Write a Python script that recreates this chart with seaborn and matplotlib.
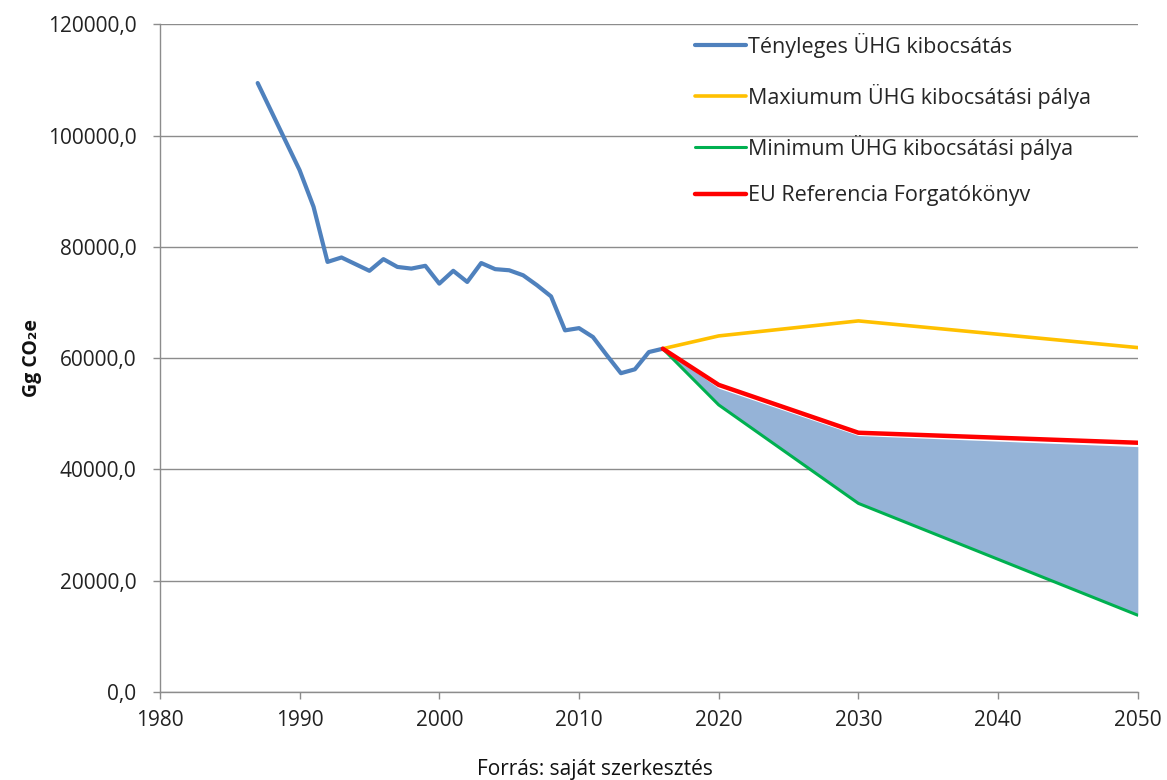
import pandas as pd
import matplotlib.pyplot as plt
import seaborn as sns
import numpy as np
from matplotlib.ticker import FuncFormatter

# Actual emissions (Gg CO2e)
years_actual = [1987, 1990, 1991, 1992, 1993, 1995, 1996, 1997, 1998, 1999, 2000,
                2001, 2002, 2003, 2004, 2005, 2006, 2007, 2008, 2009, 2010, 2011,
                2012, 2013, 2014, 2015, 2016]
actual = [109450, 93800, 87200, 77300, 78100, 75700, 77800, 76400, 76100, 76600, 73400,
          75700, 73700, 77100, 76000, 75800, 74900, 73100, 71100, 65000, 65400, 63800,
          60500, 57300, 58000, 61100, 61700]

# Scenarios
years_scen = [2016, 2020, 2030, 2050]
max_path = [61700, 64000, 66700, 61900]
min_path = [61700, 51600, 33900, 13800]
eu_ref = [61700, 55200, 46600, 44800]
band_top = [61700, 54600, 46100, 44100]

labels = ['Tényleges ÜHG kibocsátás', 'Maxiumum ÜHG kibocsátási pálya',
          'Minimum ÜHG kibocsátási pálya', 'EU Referencia Forgatókönyv']
colors = ['#4F81BD', '#FFC000', '#00B050', '#FF0000']

sns.set_style('white')
plt.rcParams['font.family'] = ['Open Sans', 'DejaVu Sans']

fig = plt.figure(figsize=(11.67, 7.8), dpi=100)
ax = fig.add_axes([0.137, 0.1128, 0.838, 0.856])

ax.fill_between(years_scen, min_path, band_top, color='#95B3D7', lw=0, zorder=1)
sns.lineplot(x=years_actual, y=actual, color=colors[0], lw=3.0, label=labels[0], ax=ax, zorder=3)
sns.lineplot(x=years_scen, y=max_path, color=colors[1], lw=2.6, label=labels[1], ax=ax, zorder=3)
sns.lineplot(x=years_scen, y=min_path, color=colors[2], lw=2.2, label=labels[2], ax=ax, zorder=3)
sns.lineplot(x=years_scen, y=eu_ref, color=colors[3], lw=3.2, label=labels[3], ax=ax, zorder=4)

ax.set_xlim(1980, 2050)
ax.set_ylim(0, 120000)
ax.set_xticks(range(1980, 2051, 10))
ax.set_yticks(range(0, 120001, 20000))
ax.yaxis.set_major_formatter(FuncFormatter(lambda v, p: f'{v:.1f}'.replace('.', ',')))
ax.grid(axis='y', color='#8c8c8c', lw=1)
ax.set_axisbelow(True)
for s in ['top', 'right']:
    ax.spines[s].set_visible(False)
for s in ['left', 'bottom']:
    ax.spines[s].set_color('#8c8c8c')
    ax.spines[s].set_linewidth(1)
ax.tick_params(axis='both', labelsize=15, colors='#8c8c8c', labelcolor='#222222',
               direction='out', length=5, width=1, bottom=True, left=True)
ax.tick_params(axis='x', pad=8)
ax.tick_params(axis='y', pad=12)

ax.set_ylabel('Gg CO₂e', fontsize=14, fontweight='bold', color='#111111', labelpad=4)
ax.set_xlabel('')

ax.legend(loc='upper left', bbox_to_anchor=(0.538, 1.0), frameon=False, fontsize=15.5,
          handlelength=2.4, handletextpad=0.1, labelspacing=1.2, borderaxespad=0)

fig.text(0.51, 0.0, 'Forrás: saját szerkesztés', ha='center', va='bottom', fontsize=15, color='#111111')

fig.savefig('out.png', dpi=100)
